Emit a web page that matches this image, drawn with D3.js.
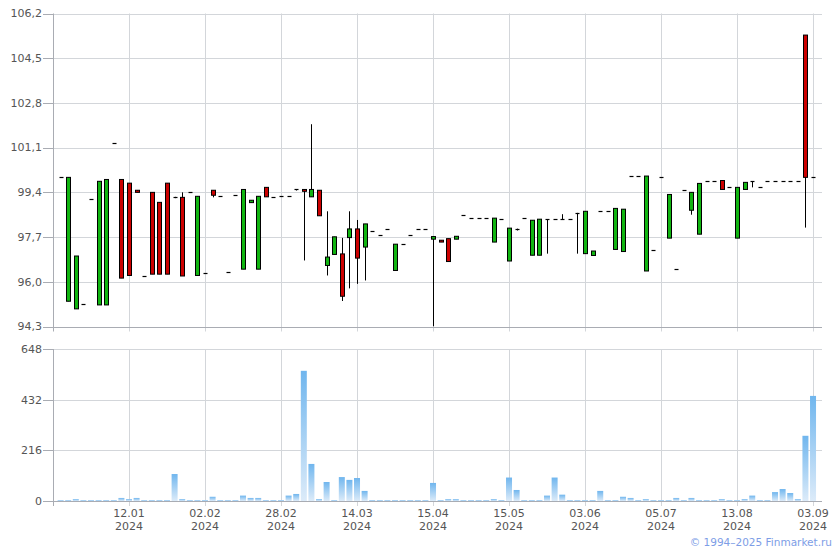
<!DOCTYPE html>
<html><head><meta charset="utf-8">
<script src="https://cdn.jsdelivr.net/npm/d3@7"></script>
<style>
html,body{margin:0;padding:0;background:#fff;}
svg{display:block;font-family:"DejaVu Sans",Verdana,sans-serif;}
</style></head>
<body><svg id="c" width="840" height="550"></svg>
<script>
const openP = [100.00,95.26,94.97,95.16,99.13,95.12,95.12,101.26,99.89,99.75,
99.48,96.22,99.40,99.02,99.75,99.23,99.21,99.40,96.24,96.33,
99.48,99.25,96.37,99.29,96.48,99.01,96.48,99.59,99.21,99.26,
99.25,99.51,99.51,99.23,99.48,96.62,97.04,97.06,97.68,98.01,
97.32,97.92,97.78,98.00,96.43,97.44,97.78,98.00,98.00,97.62,
97.58,97.64,97.62,98.54,98.42,98.42,98.42,97.51,98.38,96.79,
98.02,98.42,97.01,97.01,98.38,98.38,98.38,98.38,98.62,97.07,
97.00,98.68,98.68,97.23,97.15,100.02,100.02,96.41,97.21,99.97,
97.66,96.49,99.48,98.72,97.81,99.85,99.85,99.85,99.59,97.66,
99.51,99.83,99.59,99.82,99.82,99.83,99.85,99.85,105.38,99.97];
const closeP = [100.00,99.97,96.98,95.16,99.13,99.82,99.89,101.26,96.14,96.24,
99.40,96.22,96.29,96.29,96.29,99.23,96.22,99.40,99.25,96.33,
99.29,99.25,96.37,99.29,99.51,99.10,99.25,99.23,99.21,99.26,
99.25,99.51,99.44,99.51,98.51,96.94,97.71,95.45,98.01,96.90,
98.20,97.92,97.78,98.00,97.43,97.44,97.78,98.00,98.00,97.72,
97.51,96.77,97.73,98.54,98.42,98.42,98.42,98.42,98.38,98.04,
98.02,98.42,98.34,98.38,98.38,98.38,98.38,98.38,98.62,98.68,
97.17,98.68,98.68,98.79,98.76,100.02,100.02,100.02,97.21,99.97,
99.32,96.49,99.48,99.40,99.74,99.85,99.85,99.51,99.59,99.59,
99.78,99.83,99.59,99.82,99.82,99.83,99.85,99.85,99.97,99.97];
const highP = [100.00,99.97,96.98,95.16,99.13,99.82,99.89,101.26,99.89,99.75,
99.48,96.22,99.40,99.02,99.75,99.23,99.40,99.40,99.25,96.33,
99.48,99.25,96.37,99.29,99.51,99.10,99.25,99.59,99.21,99.26,
99.25,99.51,99.51,101.99,99.48,98.68,97.71,97.67,98.68,98.35,
98.20,97.92,97.78,98.00,97.43,97.44,97.78,98.00,98.00,97.72,
97.58,97.64,97.73,98.54,98.42,98.42,98.42,98.42,98.38,98.04,
98.02,98.42,98.34,98.38,98.38,98.38,98.57,98.38,98.62,98.68,
97.17,98.68,98.68,98.79,98.76,100.02,100.02,100.02,97.21,99.97,
99.32,96.49,99.48,99.40,99.74,99.85,99.85,99.85,99.59,99.59,
99.78,99.83,99.59,99.82,99.82,99.83,99.85,99.85,105.38,99.97];
const lowP = [100.00,95.26,94.97,95.16,99.13,95.12,95.12,101.26,96.14,96.24,
99.40,96.22,96.29,96.29,96.29,99.18,96.22,99.40,96.24,96.33,
99.21,99.25,96.37,99.29,96.48,99.01,96.48,99.23,99.21,99.26,
99.25,99.47,96.81,99.23,98.51,96.24,97.04,95.27,95.75,95.92,
96.05,97.92,97.78,98.00,96.43,97.44,97.78,98.00,98.00,94.31,
97.51,96.77,97.62,98.54,98.42,98.42,98.42,97.51,98.38,96.79,
97.95,98.42,97.01,97.01,97.07,98.38,98.38,98.38,97.07,97.07,
97.00,98.68,98.68,97.23,97.15,100.02,100.02,96.41,97.21,99.97,
97.66,96.49,99.48,98.55,97.81,99.85,99.85,99.51,99.59,97.66,
99.51,99.59,99.59,99.82,99.82,99.83,99.85,99.85,98.06,99.97];
const volume = [4,4,8,4,4,4,4,4,13,8,
13,4,4,4,4,115,8,4,4,4,
18,4,4,4,23,13,13,4,4,4,
23,30,555,158,8,81,4,102,90,98,
43,4,4,4,4,4,4,4,4,77,
4,8,8,4,4,4,4,8,4,100,
47,4,4,4,23,100,27,4,4,4,
4,43,4,4,18,13,4,8,4,4,
4,13,4,13,4,4,4,8,4,4,
8,23,4,4,38,51,34,8,278,448];
const tickIdx = [9,19,29,39,49,59,69,79,89,99];
const tickDates = ["12.01","02.02","28.02","14.03","15.04","15.05","03.06","05.07","13.08","03.09"];
const tickYears = ["2024","2024","2024","2024","2024","2024","2024","2024","2024","2024"];
const priceTicks = [94.3,96.0,97.7,99.4,101.1,102.8,104.5,106.2];
const volTicks = [0,216,432,648];
const credit = "© 1994–2025 Finmarket.ru";

const svg = d3.select("#c");
const L = 53, R = 822;
const pTop = 13.5, pBot = 326.5, vTop = 349, vBot = 501;
const x = d3.scaleLinear().domain([-1, 100.18]).range([L, R]);
const y = d3.scaleLinear().domain([94.3, 106.2]).range([pBot, pTop]);
const yv = d3.scaleLinear().domain([0, 648]).range([vBot, vTop]);
const gridC = "#d3d6da", axisC = "#a9acb3", txtC = "#555";
const fmt = v => d3.format(".1f")(v).replace(".", ",");

const defs = svg.append("defs");
const gr = defs.append("linearGradient").attr("id","vg").attr("x1",0).attr("y1",0).attr("x2",0).attr("y2",1);
gr.append("stop").attr("offset","0%").attr("stop-color","#70b6ee");
gr.append("stop").attr("offset","100%").attr("stop-color","#dcebf9");

function panel(ys, ticks, top, bot, fmtF) {
  const g = svg.append("g");
  g.selectAll(".hg").data(ticks).join("line")
    .attr("x1", L).attr("x2", R).attr("y1", d => Math.round(ys(d))+0.5).attr("y2", d => Math.round(ys(d))+0.5)
    .attr("stroke", gridC);
  g.selectAll(".vg").data(tickIdx).join("line")
    .attr("x1", d => Math.round(x(d))+0.5).attr("x2", d => Math.round(x(d))+0.5)
    .attr("y1", top).attr("y2", bot + 5).attr("stroke", gridC);
  // left axis
  g.append("line").attr("x1", L+0.5).attr("x2", L+0.5).attr("y1", top).attr("y2", bot+5).attr("stroke", axisC);
  g.append("line").attr("x1", L).attr("x2", R).attr("y1", Math.round(bot)+0.5).attr("y2", Math.round(bot)+0.5).attr("stroke", axisC);
  g.selectAll(".tk").data(ticks).join("line")
    .attr("x1", 43).attr("x2", L).attr("y1", d => Math.round(ys(d))+0.5).attr("y2", d => Math.round(ys(d))+0.5)
    .attr("stroke", axisC);
  g.selectAll(".tl").data(ticks).join("text")
    .attr("x", 42).attr("y", d => ys(d)).attr("dy", "0.35em")
    .attr("text-anchor", "end").attr("font-size", 11).attr("fill", txtC)
    .text(fmtF);
}
panel(y, priceTicks, pTop, pBot, fmt);
panel(yv, volTicks, vTop, vBot, d => d3.format("d")(d));

// volume bars
svg.append("g").selectAll("rect").data(volume).join("rect")
  .attr("x", (d,i) => x(i) - 3).attr("width", 6)
  .attr("y", d => yv(d)).attr("height", d => vBot - yv(d))
  .attr("fill", "url(#vg)");

// candles
const idx = d3.range(openP.length);
const cg = svg.append("g");
cg.selectAll(".wick").data(idx.filter(i => highP[i] > lowP[i])).join("line")
  .attr("x1", i => Math.round(x(i))+0.5).attr("x2", i => Math.round(x(i))+0.5)
  .attr("y1", i => y(highP[i])).attr("y2", i => y(lowP[i]))
  .attr("stroke", "#000").attr("stroke-width", 1);
cg.selectAll(".body").data(idx.filter(i => openP[i] !== closeP[i])).join("rect")
  .attr("x", i => Math.round(x(i)) - 1.5).attr("width", 4)
  .attr("y", i => y(Math.max(openP[i], closeP[i])))
  .attr("height", i => Math.max(1, Math.abs(y(openP[i]) - y(closeP[i]))))
  .attr("fill", i => closeP[i] > openP[i] ? "#11b511" : "#cc0000")
  .attr("stroke", "#000").attr("stroke-width", 1);
cg.selectAll(".doji").data(idx.filter(i => openP[i] === closeP[i])).join("line")
  .attr("x1", i => Math.round(x(i)) - 1.5).attr("x2", i => Math.round(x(i)) + 2.5)
  .attr("y1", i => Math.round(y(openP[i]))+0.5).attr("y2", i => Math.round(y(openP[i]))+0.5)
  .attr("stroke", "#000").attr("stroke-width", 1.2);

// x labels
const xl = svg.append("g").attr("font-size", 11).attr("fill", txtC).attr("text-anchor", "middle");
xl.selectAll(".d").data(tickIdx).join("text").attr("x", d => x(d)).attr("y", 517).text((d,k) => tickDates[k]);
xl.selectAll(".yr").data(tickIdx).join("text").attr("x", d => x(d)).attr("y", 530).text((d,k) => tickYears[k]);

svg.append("text").attr("x", 832).attr("y", 546).attr("text-anchor", "end")
  .attr("font-size", 10.5).attr("fill", "#7d9de6").text(credit);
</script></body></html>
